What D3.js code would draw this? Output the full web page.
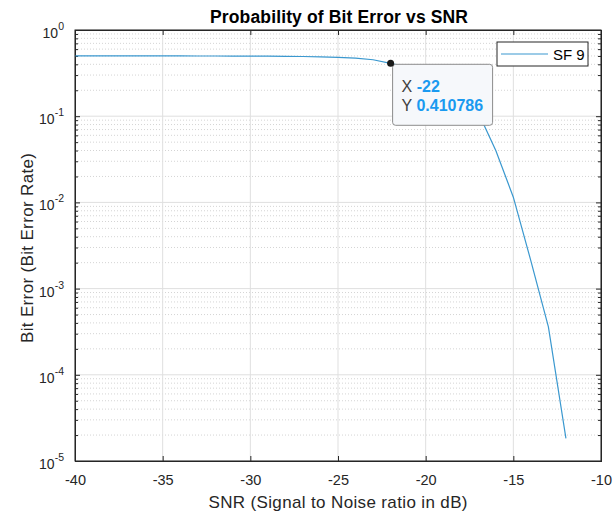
<!DOCTYPE html>
<html>
<head>
<meta charset="utf-8">
<script src="https://cdn.jsdelivr.net/npm/d3@7"></script>
<style>
  html, body { margin: 0; padding: 0; background: #fff; }
  svg { display: block; font-family: "Liberation Sans", Arial, Helvetica, sans-serif; }
</style>
</head>
<body>
<svg id="chart" width="616" height="521"></svg>
<script>
// Bit error rate of an SF 9 link against SNR (dB)
const snrValues = [-40, -39, -38, -37, -36, -35, -34, -33, -32, -31, -30, -29, -28, -27, -26, -25, -24, -23, -22, -21, -20, -19, -18, -17, -16, -15, -14, -13, -12];
const berValues = [0.5, 0.5, 0.5, 0.5, 0.5, 0.5, 0.5, 0.4995, 0.499, 0.4985, 0.498, 0.497, 0.495, 0.493, 0.489, 0.482, 0.472, 0.452, 0.410786, 0.37, 0.32, 0.25, 0.18, 0.11, 0.04, 0.0115, 0.0021, 0.00036, 0.0000183];
const xTicks = [-40, -35, -30, -25, -20, -15, -10];
const yDecades = [0, -1, -2, -3, -4, -5];
const seriesName = "SF 9";
const tipIndex = 18;

(function () {
const svg = d3.select("#chart");
const pLeft = 75, pRight = 601, pTop = 30, pBottom = 461;

const x = d3.scaleLinear().domain([-40, -10]).range([pLeft, pRight]);
const y = d3.scaleLog().domain([1e-5, 1]).range([pBottom, pTop]);

const axisColor = "#262626";
const lineColor = "#3a98cf";

// minor grid (dotted) for 2..9 in each decade
const minorVals = [];
for (let e = -5; e < 0; e++) for (let m = 2; m <= 9; m++) minorVals.push(m * Math.pow(10, e));
const decadeVals = yDecades.map(e => Math.pow(10, e));

const grid = svg.append("g");
grid.selectAll("line.minor").data(minorVals).join("line").attr("class", "minor")
  .attr("x1", pLeft).attr("x2", pRight)
  .attr("y1", d => y(d)).attr("y2", d => y(d))
  .attr("stroke", "#d4d4d4").attr("stroke-width", 1)
  .attr("stroke-dasharray", "1,2");
grid.selectAll("line.majy").data(decadeVals).join("line").attr("class", "majy")
  .attr("x1", pLeft).attr("x2", pRight)
  .attr("y1", d => y(d)).attr("y2", d => y(d))
  .attr("stroke", "#dfdfdf").attr("stroke-width", 1);
grid.selectAll("line.majx").data(xTicks).join("line").attr("class", "majx")
  .attr("x1", d => x(d)).attr("x2", d => x(d))
  .attr("y1", pTop).attr("y2", pBottom)
  .attr("stroke", "#dfdfdf").attr("stroke-width", 1);

// axes
const gx = svg.append("g").attr("transform", `translate(0,${pBottom})`)
  .call(d3.axisBottom(x).tickValues(xTicks).tickSize(-5).tickPadding(14).tickFormat(d => String(d)));
const gxTop = svg.append("g").attr("transform", `translate(0,${pTop})`)
  .call(d3.axisTop(x).tickValues(xTicks).tickSize(-5).tickFormat(""));
const gy = svg.append("g").attr("transform", `translate(${pLeft},0)`)
  .call(d3.axisLeft(y).tickValues(decadeVals).tickSize(-5).tickFormat(""));
const gyMinor = svg.append("g").attr("transform", `translate(${pLeft},0)`)
  .call(d3.axisLeft(y).tickValues(minorVals).tickSize(-3).tickFormat(""));
const gyR = svg.append("g").attr("transform", `translate(${pRight},0)`)
  .call(d3.axisRight(y).tickValues(decadeVals).tickSize(-5).tickFormat(""));
const gyRMinor = svg.append("g").attr("transform", `translate(${pRight},0)`)
  .call(d3.axisRight(y).tickValues(minorVals).tickSize(-3).tickFormat(""));

[gx, gxTop, gy, gyMinor, gyR, gyRMinor].forEach(g => {
  g.selectAll("path.domain").attr("stroke", axisColor);
  g.selectAll(".tick line").attr("stroke", axisColor);
});
gx.selectAll(".tick text").attr("fill", axisColor).attr("font-size", 14.5)
  .attr("font-family", "Liberation Sans, Arial, sans-serif");

// y tick labels with superscript exponent
const yl = svg.append("g");
yDecades.forEach(e => {
  const t = yl.append("text")
    .attr("x", pLeft - 11).attr("y", y(Math.pow(10, e)) + 8)
    .attr("text-anchor", "end").attr("fill", axisColor)
    .attr("font-size", 14);
  t.append("tspan").text("10");
  t.append("tspan").attr("dy", -8).attr("font-size", 10.5).text(String(e));
});

// data line
const pts = snrValues.map((s, i) => [s, berValues[i]]);
svg.append("path").datum(pts)
  .attr("fill", "none").attr("stroke", lineColor).attr("stroke-width", 1.2)
  .attr("d", d3.line().x(d => x(d[0])).y(d => y(d[1])));

// box outline
svg.append("rect").attr("x", pLeft).attr("y", pTop)
  .attr("width", pRight - pLeft).attr("height", pBottom - pTop)
  .attr("fill", "none").attr("stroke", axisColor).attr("stroke-width", 1);

// titles
svg.append("text").attr("x", 339).attr("y", 23)
  .attr("text-anchor", "middle").attr("font-weight", "bold")
  .attr("font-size", 17.5).attr("fill", "#000")
  .attr("textLength", 258).attr("lengthAdjust", "spacing")
  .text("Probability of Bit Error vs SNR");
svg.append("text").attr("x", 338).attr("y", 508)
  .attr("text-anchor", "middle").attr("font-size", 17).attr("fill", axisColor)
  .attr("textLength", 259).attr("lengthAdjust", "spacing")
  .text("SNR (Signal to Noise ratio in dB)");
svg.append("text")
  .attr("transform", `translate(33,248) rotate(-90)`)
  .attr("text-anchor", "middle").attr("font-size", 17).attr("fill", axisColor)
  .attr("textLength", 190).attr("lengthAdjust", "spacing")
  .text("Bit Error (Bit Error Rate)");

// legend
const lg = svg.append("g");
lg.append("rect").attr("x", 497).attr("y", 42).attr("width", 91).attr("height", 24)
  .attr("fill", "#fff").attr("stroke", axisColor).attr("stroke-width", 1);
lg.append("line").attr("x1", 501).attr("x2", 548).attr("y1", 54).attr("y2", 54)
  .attr("stroke", lineColor).attr("stroke-width", 1.2);
lg.append("text").attr("x", 553).attr("y", 59.5).attr("font-size", 15).attr("fill", "#000")
  .text(seriesName);

// data tip
const tx = x(snrValues[tipIndex]), ty = y(berValues[tipIndex]);
const tip = svg.append("g");
tip.append("rect").attr("x", tx + 2).attr("y", ty + 1).attr("width", 100).attr("height", 61)
  .attr("rx", 3).attr("fill", "#f6f8fb").attr("stroke", "#8c8c8c").attr("stroke-width", 1);
tip.append("circle").attr("cx", tx).attr("cy", ty).attr("r", 3.5).attr("fill", "#1a1a1a");
const t1 = tip.append("text").attr("x", tx + 11).attr("y", ty + 28.5).attr("font-size", 16);
t1.append("tspan").attr("fill", "#404040").text("X ");
t1.append("tspan").attr("fill", "#1a9af0").attr("font-weight", "bold").text(String(snrValues[tipIndex]));
const t2 = tip.append("text").attr("x", tx + 11).attr("y", ty + 48).attr("font-size", 16);
t2.append("tspan").attr("fill", "#404040").text("Y ");
t2.append("tspan").attr("fill", "#1a9af0").attr("font-weight", "bold").text(String(berValues[tipIndex]));
})();
</script>
</body>
</html>
